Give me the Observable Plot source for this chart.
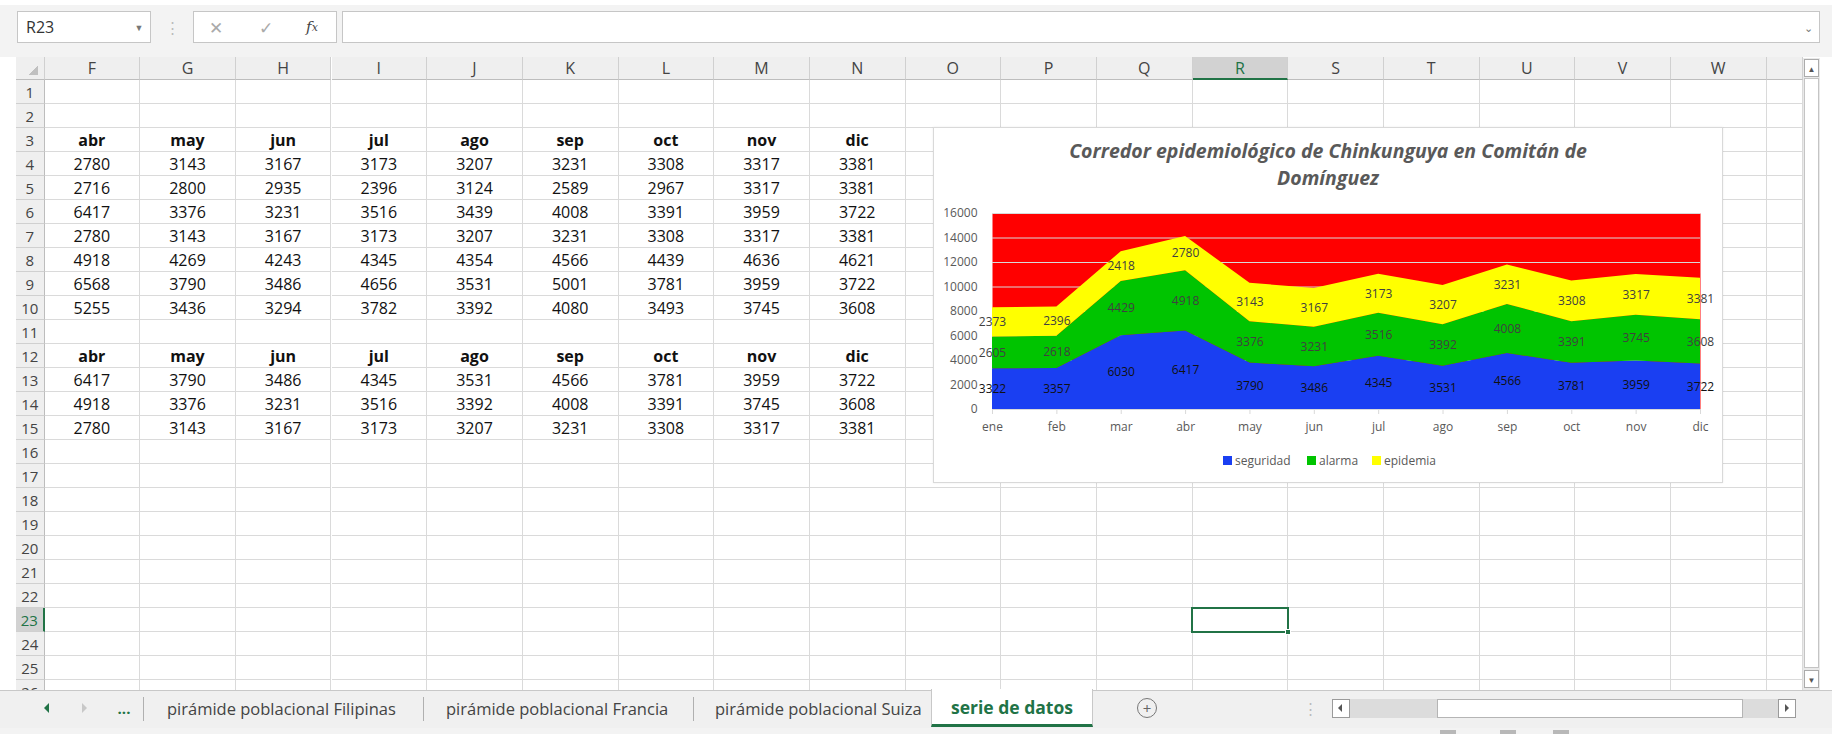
<!DOCTYPE html>
<html><head><meta charset="utf-8">
<script src="https://cdn.jsdelivr.net/npm/d3@7"></script>
<script src="https://cdn.jsdelivr.net/npm/@observablehq/plot@0.6"></script>
<style>
html,body{margin:0;padding:0;width:1832px;height:734px;overflow:hidden;background:#fff;font-family:"Open Sans",sans-serif;}
.abs{position:absolute;box-sizing:border-box;}
.c{display:flex;align-items:center;justify-content:center;white-space:nowrap;}
</style></head><body>
<script>
// ---------- chart data ----------
const months = ["ene","feb","mar","abr","may","jun","jul","ago","sep","oct","nov","dic"];
const seriesNames = ["seguridad","alarma","epidemia"];
const seguridad = [3322,3357,6030,6417,3790,3486,4345,3531,4566,3781,3959,3722];
const alarma    = [2605,2618,4429,4918,3376,3231,3516,3392,4008,3391,3745,3608];
const epidemia  = [2373,2396,2418,2780,3143,3167,3173,3207,3231,3308,3317,3381];
const yTicks = [0,2000,4000,6000,8000,10000,12000,14000,16000];
const seriesColors = ["#1a3ff2","#00c400","#ffff00"];
const labelColors = ["#111111","#404040","#404040"];
const chartTitle = "Corredor epidemiológico de Chinkunguya en Comitán de";
const chartTitle2 = "Domínguez";

// ---------- spreadsheet data ----------
const colLetters = ["F","G","H","I","J","K","L","M","N","O","P","Q","R","S","T","U","V","W"];
const tableMonths = ["abr","may","jun","jul","ago","sep","oct","nov","dic"];
const row4  = [2780,3143,3167,3173,3207,3231,3308,3317,3381];
const row5  = [2716,2800,2935,2396,3124,2589,2967,3317,3381];
const row6  = [6417,3376,3231,3516,3439,4008,3391,3959,3722];
const row7  = [2780,3143,3167,3173,3207,3231,3308,3317,3381];
const row8  = [4918,4269,4243,4345,4354,4566,4439,4636,4621];
const row9  = [6568,3790,3486,4656,3531,5001,3781,3959,3722];
const row10 = [5255,3436,3294,3782,3392,4080,3493,3745,3608];
const row13 = [6417,3790,3486,4345,3531,4566,3781,3959,3722];
const row14 = [4918,3376,3231,3516,3392,4008,3391,3745,3608];
const row15 = [2780,3143,3167,3173,3207,3231,3308,3317,3381];
const sheetTabs = ["pirámide poblacional Filipinas","pirámide poblacional Francia","pirámide poblacional Suiza"];
const activeTab = "serie de datos";

// ---------- helpers ----------
function el(x,y,w,h,css,html,parent){
  const d=document.createElement('div');d.className='abs';
  Object.assign(d.style,{left:x+'px',top:y+'px',width:w+'px',height:h+'px'},css||{});
  if(html!=null)d.innerHTML=html;(parent||document.body).appendChild(d);return d;}

// ---------- toolbar ----------
el(0,0,1832,57,{background:'#f3f3f3'});
el(0,0,1832,5,{background:'#fff'});
el(17,11,134,32,{background:'#fff',border:'1px solid #c6c6c6'});
el(26,11,60,32,{fontSize:'16px',color:'#333',display:'flex',alignItems:'center'},'R23');
el(132,11,14,32,{fontSize:'9px',color:'#777'},'▼').className='abs c';
el(166,11,12,32,{fontSize:'15px',color:'#bbb'},'⋮').className='abs c';
el(193,11,144,32,{background:'#fff',border:'1px solid #c6c6c6'});
el(205,11,22,32,{fontSize:'17px',color:'#aaa'},'✕').className='abs c';
el(255,11,22,32,{fontSize:'17px',color:'#aaa'},'✓').className='abs c';
el(299,11,26,32,{fontSize:'15px',color:'#444',fontStyle:'italic',fontFamily:'"DejaVu Serif",serif'},'f<span style="font-size:11px">x</span>').className='abs c';
el(342,11,1478,32,{background:'#fff',border:'1px solid #c6c6c6'});
el(1800,11,16,32,{fontSize:'11px',color:'#777'},'⌄').className='abs c';

// ---------- grid ----------
const colW = 95.67, gridX0 = 44.5, rowH = 24, gridY0 = 80;
const grid = el(0,57,1803,633,{overflow:'hidden'});
el(16,0,28.5,23,{background:'#efefef',borderRight:'1px solid #d0d0d0',borderBottom:'1px solid #bdbdbd'},null,grid);
el(28,8,10,10,{background:'linear-gradient(135deg,transparent 50%,#c0c0c0 50%)'},null,grid);
for(let k=0;k<19;k++){
  const x=gridX0+k*colW, w = k<18?colW:(1803-x);
  const sel = colLetters[k]==="R";
  el(x,0,w,23,{background:sel?'#d2d2d2':'#efefef',borderRight:'1px solid #d0d0d0',
    borderBottom:sel?'2px solid #217346':'1px solid #bdbdbd',color:sel?'#217346':'#444',fontSize:'16px'},
    k<18?colLetters[k]:'',grid).className='abs c';
}
const rowData = {4:row4,5:row5,6:row6,7:row7,8:row8,9:row9,10:row10,13:row13,14:row14,15:row15};
for(let r=1;r<=26;r++){
  const y=gridY0+(r-1)*rowH-57;
  const sel = r===23;
  el(16,y,28.5,rowH,{background:sel?'#d2d2d2':'#efefef',borderRight:sel?'2px solid #217346':'1px solid #bdbdbd',
    borderBottom:'1px solid #d0d0d0',color:sel?'#217346':'#444',fontSize:'15px',fontFamily:'"Liberation Sans Narrow","Open Sans",sans-serif'},String(r),grid).className='abs c';
  for(let k=0;k<19;k++){
    const x=gridX0+k*colW, w = k<18?colW:(1803-x);
    let txt='', bold=false;
    if((r===3||r===12)&&k<9){txt=tableMonths[k];bold=true;}
    else if(rowData[r]&&k<9){txt=String(rowData[r][k]);}
    el(x,y,w,rowH,{borderRight:'1px solid #dadada',borderBottom:'1px solid #dadada',fontSize:'16px',
      fontWeight:bold?'700':'400',color:'#111'},txt,grid).className='abs c';
  }
}
const selX = gridX0+12*colW, selY = gridY0+22*rowH-57;
el(selX-1.5,selY-1.5,colW+2,rowH+2,{border:'2px solid #217346'},null,grid);
el(selX+colW-3,selY+rowH-3,6,6,{background:'#217346',border:'1px solid #fff'},null,grid);

// vertical scrollbar
el(1803,58,17,632,{background:'#e9e9e9'});
el(1804,59,15,18,{background:'#fff',border:'1px solid #ababab',fontSize:'8px',color:'#555'},'▲').className='abs c';
el(1804,78,15,590,{background:'#fff',border:'1px solid #c4c4c4'});
el(1804,670,15,18,{background:'#fff',border:'1px solid #ababab',fontSize:'8px',color:'#555'},'▼').className='abs c';

// ---------- tab bar ----------
el(0,690,1832,38,{background:'#f0f0f0',borderTop:'1px solid #c8c8c8'});
el(44,703,0,0,{borderTop:'5px solid transparent',borderBottom:'5px solid transparent',borderRight:'5px solid #217346'});
el(82,703,0,0,{borderTop:'5px solid transparent',borderBottom:'5px solid transparent',borderLeft:'5px solid #c8c8c8'});
el(112,692,24,32,{fontSize:'15px',fontWeight:'700',color:'#217346'},'...').className='abs c';
[143,423,693].forEach(x=>el(x,697,1,24,{background:'#b0b0b0'}));
[167,446,715].forEach((x,i)=>el(x,692,260,32,{fontSize:'16.5px',color:'#444',display:'flex',alignItems:'center'},sheetTabs[i]));
el(931,689,162,38,{background:'#fff',borderLeft:'1px solid #c8c8c8',borderRight:'1px solid #c8c8c8',borderBottom:'3px solid #217346',
  fontSize:'17.5px',fontWeight:'700',color:'#217346'},activeTab).className='abs c';
el(1137,698,20,20,{border:'1px solid #777',borderRadius:'50%',fontSize:'15px',color:'#666',lineHeight:'1'},'+').className='abs c';
el(1305,692,10,32,{fontSize:'15px',color:'#bbb'},'⋮').className='abs c';
el(1332,699,18,19,{background:'#fff',border:'1px solid #9a9a9a'});
el(1338,704,0,0,{borderTop:'4px solid transparent',borderBottom:'4px solid transparent',borderRight:'4px solid #555'});
el(1350,699,428,19,{background:'#dcdcdc'});
el(1437,699,306,19,{background:'#fff',border:'1px solid #b5b5b5'});
el(1778,699,18,19,{background:'#fff',border:'1px solid #9a9a9a'});
el(1785,704,0,0,{borderTop:'4px solid transparent',borderBottom:'4px solid transparent',borderLeft:'4px solid #555'});
el(0,728,1832,6,{background:'#f3f3f3'});
[1440,1500,1553].forEach(x=>el(x,730,16,4,{background:'#b8b8b8'}));

// ---------- chart ----------
el(933,127,790,356,{background:'#fff',border:'1px solid #d9d9d9',zIndex:5,boxShadow:'0 0 2px rgba(0,0,0,0.08)'});
el(933,137,790,54,{zIndex:6,textAlign:'center',fontSize:'19.5px',lineHeight:'27px',fontWeight:'700',fontStyle:'italic',color:'#595959'},
  chartTitle+'<br>'+chartTitle2);

const allSeries=[seguridad,alarma,epidemia];
const data=[];
seriesNames.forEach((s,si)=>allSeries[si].forEach((v,i)=>{
  let base=0; for(let j=0;j<si;j++) base+=allSeries[j][i];
  data.push({i,month:months[i],series:s,value:v,base,si});
}));

const chart = Plot.plot({
  width:790,height:240,
  marginLeft:59,marginRight:23,marginTop:13,marginBottom:31,
  style:{fontFamily:'"Open Sans",sans-serif',fontSize:'12px',background:'transparent',overflow:'visible'},
  x:{domain:[0,11]},
  y:{domain:[0,16000]},
  color:{domain:seriesNames,range:seriesColors},
  marks:[
    Plot.frame({fill:'#ff0000',stroke:'none'}),
    Plot.gridY(yTicks,{stroke:'#d9d9d9',strokeOpacity:1}),
    Plot.areaY(data,{x:'i',y:'value',z:'series',fill:'series',fillOpacity:1}),
    Plot.ruleY([0],{stroke:'#d9d9d9'}),
    Plot.axisY({ticks:yTicks,tickSize:0,tickPadding:15,label:null,fill:'#595959',tickFormat:d=>String(d)}),
    Plot.axisX({ticks:d3.range(12),tickFormat:i=>months[i],tickSize:5,tickPadding:8,label:null,stroke:'#d9d9d9',fill:'#595959'}),
    ...seriesNames.map((s,si)=>Plot.text(data.filter(d=>d.series===s),
      {x:'i',y:d=>d.base+d.value/2,text:d=>String(d.value),fill:labelColors[si],fontSize:12}))
  ]
});
const holder=el(933,200,790,240,{zIndex:7});
holder.appendChild(chart);

const legX=[[1223,1235],[1307,1319],[1372,1384]];
seriesNames.forEach((s,si)=>{
  el(legX[si][0],456,9,9,{background:seriesColors[si],zIndex:7});
  el(legX[si][1],450,80,20,{zIndex:7,fontSize:'12px',color:'#595959',display:'flex',alignItems:'center'},s);
});
</script>
</body></html>
